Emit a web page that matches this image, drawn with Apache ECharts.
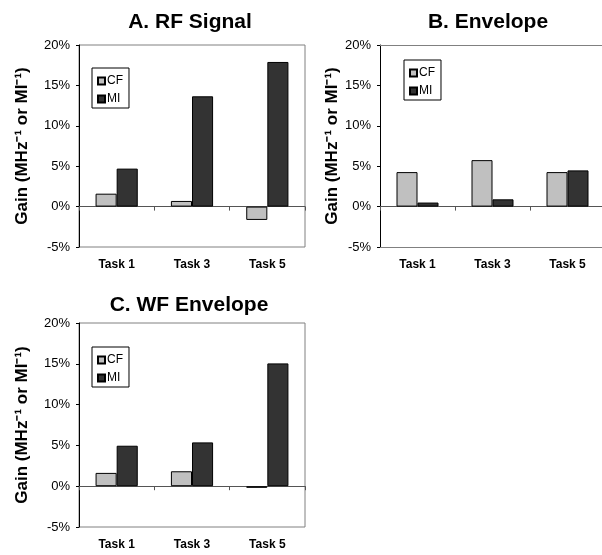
<!DOCTYPE html>
<html><head><meta charset="utf-8">
<script src="https://cdn.jsdelivr.net/npm/echarts@6/dist/echarts.min.js"></script>
<style>html,body{margin:0;padding:0;background:#fff}#c{width:602px;height:555px}</style>
</head><body><div id="c"></div>
<script>
const categories = ['Task 1', 'Task 3', 'Task 5'];
const titles = ['A. RF Signal', 'B. Envelope', 'C. WF Envelope'];
const cfA = [1.6, 0.7, -1.65];
const miA = [4.7, 13.65, 17.9];
const cfB = [4.27, 5.75, 4.27];
const miB = [0.5, 0.9, 4.48];
const cfC = [1.63, 1.83, -0.2];
const miC = [4.96, 5.37, 15.05];
const yTicks = {min: -5, max: 20, interval: 5};
const yName = 'Gain (MHz\u207B\u00B9 or MI\u207B\u00B9)';

const FONT = '"Liberation Sans", Arial, sans-serif';
const FRAME = '#808080';
const panels = [
  {cf: cfA, mi: miA, grid: {left: 79, top: 45, width: 226, height: 202}, titleX: 185, titleY: 7, legend: {left: 92, top: 68}, nameGap: 48, border: true},
  {cf: cfB, mi: miB, grid: {left: 380, top: 45, width: 225, height: 202}, titleX: 483, titleY: 7, legend: {left: 404, top: 60}, nameGap: 37, border: false},
  {cf: cfC, mi: miC, grid: {left: 79, top: 323, width: 226, height: 204}, titleX: 184, titleY: 290, legend: {left: 92, top: 347}, nameGap: 48, border: true}
];

const option = {
  animation: false,
  backgroundColor: '#fff',
  title: [], grid: [], xAxis: [], yAxis: [], series: [], legend: []
};

panels.forEach((p, i) => {
  option.title.push({
    text: titles[i], left: p.titleX, top: p.titleY, textAlign: 'center',
    textStyle: {fontFamily: FONT, fontSize: 21, fontWeight: 'bold', color: '#000'}
  });
  option.grid.push(Object.assign({show: true, borderColor: FRAME, borderWidth: p.border ? 1 : 0, backgroundColor: '#fff', outerBoundsMode: 'none', containLabel: false}, p.grid));
  const xi = option.xAxis.length;
  option.xAxis.push({
    type: 'category', gridIndex: i, data: categories,
    axisLine: {onZero: true, lineStyle: {color: '#555', width: 1}},
    axisTick: {show: true, length: 4, interval: 0, lineStyle: {color: '#555'}},
    axisLabel: {show: false}
  });
  option.xAxis.push({
    type: 'category', gridIndex: i, data: categories, position: 'bottom',
    axisLine: {show: !p.border, onZero: false, lineStyle: {color: FRAME}}, axisTick: {show: false},
    axisLabel: {margin: 12, fontFamily: FONT, fontSize: 12, fontWeight: 'bold', color: '#000'}
  });
  if (!p.border) {
    option.xAxis.push({
      type: 'category', gridIndex: i, data: categories, position: 'top',
      axisLine: {show: true, onZero: false, lineStyle: {color: FRAME}}, axisTick: {show: false},
      axisLabel: {show: false}
    });
  }
  option.yAxis.push({
    type: 'value', gridIndex: i, min: yTicks.min, max: yTicks.max, interval: yTicks.interval,
    name: yName, nameLocation: 'middle', nameRotate: 90, nameGap: p.nameGap,
    nameTextStyle: {fontFamily: FONT, fontSize: 17, fontWeight: 'bold', color: '#000'},
    axisLine: {show: true, lineStyle: {color: '#000', width: 1}},
    axisTick: {show: true, length: 3, lineStyle: {color: '#000'}},
    splitLine: {show: false},
    axisLabel: {formatter: '{value}%', margin: 9, fontFamily: FONT, fontSize: 13, color: '#000'}
  });
  const base = {type: 'bar', xAxisIndex: xi, yAxisIndex: i, barGap: '0%', barCategoryGap: '44%'};
  option.series.push(Object.assign({}, base, {name: 'CF', data: p.cf, itemStyle: {color: '#c0c0c0', borderColor: '#000', borderWidth: 1}}));
  option.series.push(Object.assign({}, base, {name: 'MI', data: p.mi, itemStyle: {color: '#333333', borderColor: '#000', borderWidth: 1}}));
  option.legend.push({
    data: ['CF', 'MI'], orient: 'vertical', left: p.legend.left, top: p.legend.top,
    itemWidth: 7, itemHeight: 7, itemGap: 6, icon: 'rect', selectedMode: false,
    padding: [7, 6, 3, 5], borderColor: '#000', borderWidth: 1, backgroundColor: '#fff',
    textStyle: {fontFamily: FONT, fontSize: 12, color: '#000', padding: [0, 0, 0, -3]}
  });
});

const chart = echarts.init(document.getElementById('c'), null, {renderer: 'canvas'});
chart.setOption(option);
</script>
</body></html>
